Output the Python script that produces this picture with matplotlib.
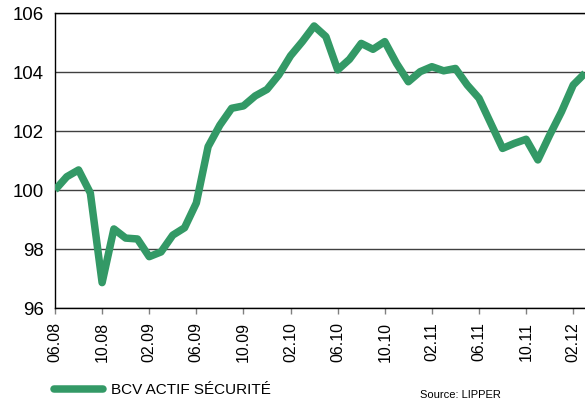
"""BCV Actif Sécurité performance chart."""

import matplotlib

matplotlib.use("Agg")
import matplotlib.pyplot as plt
import numpy as np

plt.rcParams["font.family"] = ["Liberation Sans", "DejaVu Sans"]

# monthly values, 06.08 .. 03.12
values = [
    100.0, 100.45, 100.68, 99.9, 96.86, 98.68, 98.37, 98.34,
    97.74, 97.9, 98.47, 98.72, 99.56, 101.47, 102.2, 102.77,
    102.85, 103.19, 103.41, 103.9, 104.55, 105.03, 105.56, 105.2,
    104.07, 104.43, 104.97, 104.77, 105.03, 104.29, 103.67, 104.01,
    104.18, 104.04, 104.12, 103.56, 103.11, 102.26, 101.41, 101.58,
    101.72, 101.02, 101.86, 102.65, 103.56, 103.96,
]
tick_labels = [
    "06.08", "10.08", "02.09", "06.09", "10.09", "02.10",
    "06.10", "10.10", "02.11", "06.11", "10.11", "02.12",
]
y_ticks = [96, 98, 100, 102, 104, 106]
series_name = "BCV ACTIF SÉCURITÉ"
source = "Source: LIPPER"

GREEN = "#339966"

W, H = 585, 403
fig = plt.figure(figsize=(W / 100, H / 100), dpi=100)
ax = fig.add_axes([55 / W, 1 - 308 / H, 1 - 55 / W, (308 - 13) / H])

months = np.arange(len(values))
line, = ax.plot(months, values, color=GREEN, lw=5.4, solid_joinstyle="round",
                solid_capstyle="butt", label=series_name, zorder=3)

ax.set_xlim(0, len(values) - 1)
ax.set_ylim(96, 106)
ax.set_yticks(y_ticks)
ax.set_yticklabels([str(v) for v in y_ticks], fontsize=13.4)
ax.set_xticks(months[::4])
ax.set_xticklabels(tick_labels, rotation=90, fontsize=11.5)

ax.tick_params(axis="y", length=0, pad=8)
ax.tick_params(axis="x", length=4, width=1, color="#808080", pad=6)

ax.grid(axis="y", color="#404040", lw=1, zorder=1)
ax.spines["right"].set_visible(False)
for side in ("left", "bottom", "top"):
    ax.spines[side].set_color("black")
    ax.spines[side].set_linewidth(1)

leg = fig.legend(handles=[line], loc="center left", bbox_to_anchor=(40 / W, 1 - 390 / H),
                 frameon=False, fontsize=11, handlelength=3.2, handletextpad=0.55)
leg.get_lines()[0].set_solid_capstyle("round")
fig.text(420 / W, 1 - 395 / H, source, fontsize=8, va="center", ha="left")

fig.savefig("out.png", dpi=100)
